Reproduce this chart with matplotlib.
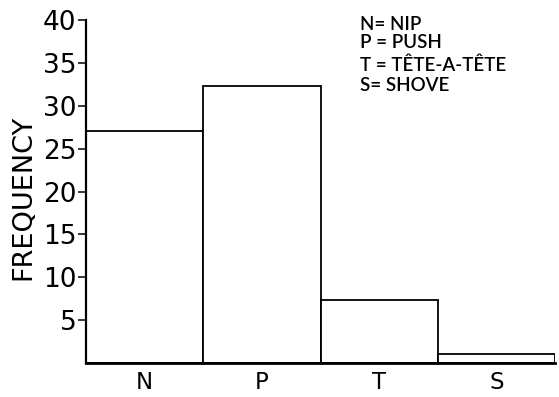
import matplotlib
matplotlib.use("Agg")
import matplotlib.pyplot as plt

# values
categories = ["N", "P", "T", "S"]
frequency = [27.0, 32.3, 7.4, 1.1]
ytick_values = [5, 10, 15, 20, 25, 30, 35, 40]
legend_lines = ["N= NIP", "P = PUSH", "T = TÊTE-A-TÊTE", "S= SHOVE"]

plt.rcParams['font.family'] = ['DejaVu Sans']

fig = plt.figure(figsize=(5.59, 3.97), dpi=100)
ax = fig.add_axes([0.154, 0.0856, 0.839, 0.864])

xs = list(range(len(categories)))
ax.bar(xs, frequency, width=1.0, color='white', edgecolor='black', linewidth=1.3)

ax.set_xlim(-0.5, len(categories) - 0.5)
ax.set_ylim(0, 40)

for side in ['top', 'right']:
    ax.spines[side].set_visible(False)
ax.spines['left'].set_linewidth(1.6)
ax.spines['bottom'].set_linewidth(2.0)

ax.set_yticks(ytick_values)
ax.set_yticklabels([str(v) for v in ytick_values])
ax.tick_params(axis='y', direction='out', length=6, width=1.1, pad=1, labelsize=19)
ax.set_xticks(xs)
ax.set_xticklabels(categories)
ax.tick_params(axis='x', length=0, pad=6, labelsize=16.5)

ax.set_ylabel("FREQUENCY", fontsize=19.5)
ax.yaxis.set_label_coords(-0.105, 0.484)

# key text in the upper right
key_y = [0.925, 0.878, 0.820, 0.770]
for line, y in zip(legend_lines, key_y):
    fig.text(0.644, y, line, fontsize=13.5, family=['Lato', 'DejaVu Sans'],
             weight='semibold', va='baseline', ha='left')

fig.savefig("out.png", dpi=100)
